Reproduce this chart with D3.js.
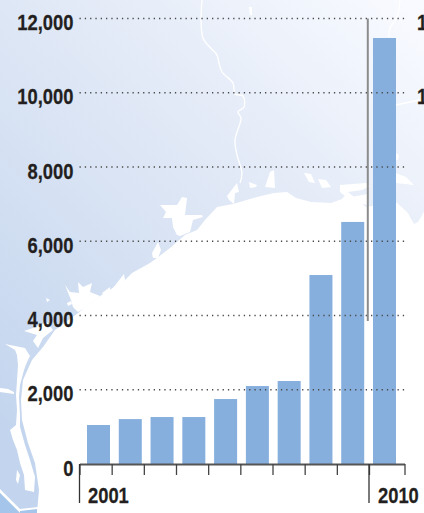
<!DOCTYPE html>
<html lang="en">
<head>
    <meta charset="UTF-8" />
    <title>Bar chart 2001-2010</title>
    <script src="https://d3js.org/d3.v7.min.js"></script>
    <style>
        html, body { margin: 0; padding: 0; background: #fff; overflow: hidden; }
        svg { display: block; }
        text { font-family: "Liberation Sans", sans-serif; font-weight: bold; font-size: 22px; fill: #231f20; stroke: #231f20; stroke-width: 0.25px; }
    </style>
</head>
<body>
    <svg id="chart" width="424" height="513"></svg>

    <script>
        // Values
        const years = [2001, 2002, 2003, 2004, 2005, 2006, 2007, 2008, 2009, 2010];
        const values = [1050, 1210, 1265, 1265, 1750, 2100, 2235, 5090, 6520, 11475];
        const yTicks = [0, 2000, 4000, 6000, 8000, 10000, 12000];
        const yearLabels = [2001, 2010];

        const svg = d3.select("#chart");

        // The labels use a condensed face, no narrow font here so squeeze it
        const squeeze = "scale(0.835,1)";

        // Scales
        const x = d3.scaleBand().domain(years).range([87, 396]).paddingInner(0.276).paddingOuter(0);
        const y = d3.scaleLinear().domain([0, 12000]).range([464, 18.5]);
        // Ticks sit between the bars and the last one runs a bit wider
        const xTick = d3.scaleLinear().domain([2001, 2010, 2011]).range([79.5, 369, 404.5]);

        // Background map, land only (the gulf is the white page)
        const grad = svg.append("defs").append("linearGradient")
            .attr("id", "land")
            .attr("gradientUnits", "userSpaceOnUse")
            .attr("x1", 0).attr("y1", 420).attr("x2", 400).attr("y2", 0);
        grad.append("stop").attr("offset", 0).attr("stop-color", "#c3d5ee");
        grad.append("stop").attr("offset", 0.5).attr("stop-color", "#dde6f5");
        grad.append("stop").attr("offset", 1).attr("stop-color", "#f8faff");

        const map = svg.append("g");
        const shape = d3.line().curve(d3.curveLinearClosed);
        const river = d3.line().curve(d3.curveCatmullRom);

        const coast = [[0, 0], [424, 0], [424, 212], [418, 222], [414, 224], [407, 212], [396, 202], [366, 207],
            [348, 192], [342, 199], [331, 203], [311, 202], [296, 198], [287, 192], [274, 193], [257, 197],
            [233, 204], [217, 207], [205, 220], [197, 230], [185, 235], [170, 248], [157, 258], [150, 263],
            [132, 273], [125, 280], [97, 298], [78, 313], [55, 330], [43, 347], [32, 360], [23, 380],
            [21, 400], [22, 420], [28, 443], [35, 463], [39, 490], [37, 513], [0, 513]];
        map.append("path").attr("d", shape(coast)).attr("fill", "url(#land)");

        // Bays, lagoons and lakes
        const water = [
            [[5, 344], [25, 348], [30, 356], [27, 362], [24, 370], [20, 385], [19, 397], [20, 415], [20, 427], [25, 445], [30, 460], [35, 477], [34, 492], [25, 490], [24, 475], [20, 463], [17, 450], [13, 440], [10, 430], [16, 425], [17, 410], [16, 395], [17, 380], [18, 365], [17, 355], [15, 350]],
            [[17, 470], [20, 475], [18, 484], [16, 480]],
            [[0, 388], [8, 389], [14, 392], [14, 394], [0, 392]],
            [[0, 489], [10, 499], [20, 509], [38, 507], [40, 513], [20, 513], [10, 503], [0, 493]],
            [[24, 331], [33, 328], [47, 322], [53, 330], [43, 338], [38, 348], [33, 341], [37, 335]],
            [[65, 285], [70, 292], [79, 293], [78, 282], [83, 287], [92, 283], [90, 292], [100, 296], [85, 308], [78, 312], [73, 307], [71, 300]],
            [[46, 298], [50, 300], [47, 302]],
            [[67, 303], [71, 301], [72, 304], [68, 306]],
            [[102, 293], [110, 287], [110, 291], [104, 296]],
            [[113, 288], [124, 274], [125, 280], [116, 290]],
            [[160, 205], [177, 205], [182, 197], [187, 198], [185, 215], [202, 215], [203, 217], [193, 220], [190, 232], [180, 236], [177, 235], [173, 227], [172, 218], [163, 218], [166, 212]],
            [[152, 253], [158, 242], [161, 250], [158, 258], [153, 258]],
            [[227, 196], [237, 183], [239, 192], [235, 193], [234, 204], [229, 200]],
            [[249, 182], [257, 185], [256, 187], [250, 188]],
            [[265, 187], [270, 172], [274, 170], [275, 188]],
            [[304, 173], [311, 174], [315, 183], [309, 182]],
            [[318, 179], [326, 180], [331, 187], [322, 188]],
            [[340, 185], [366, 183], [370, 186], [362, 190], [348, 192], [345, 196], [340, 192]],
            [[351, 197], [368, 194], [368, 205], [356, 203]],
            [[396, 173], [406, 177], [414, 185], [396, 183]],
            [[396, 153], [399, 155], [398, 160], [396, 160]],
            [[398, 213], [409, 214], [409, 218], [398, 217]],
            [[249, 7], [252, 7], [252, 15], [250, 15]]
        ];
        map.selectAll(".water").data(water).enter().append("path")
            .attr("class", "water")
            .attr("d", d => shape(d))
            .attr("fill", "#fff");

        // Darker sea in the corner
        map.append("path")
            .attr("d", shape([[0, 493], [10, 503], [20, 513], [0, 513]]))
            .attr("fill", "#a5c5ea");
        map.append("path")
            .attr("d", shape([[20, 511], [37, 509], [37, 513], [20, 513]]))
            .attr("fill", "#a5c5ea");

        // Rivers
        const rivers = [
            [[202, 0], [203, 38], [217, 55], [219, 63], [222, 72], [233, 83], [235, 94], [243, 96], [244, 107], [238, 112], [241, 118], [235, 140], [237, 155], [242, 173], [240, 183]],
            [[400, 0], [397, 17], [390, 28], [389, 37]],
            [[396, 105], [424, 99]]
        ];
        map.selectAll(".river").data(rivers).enter().append("path")
            .attr("class", "river")
            .attr("d", d => river(d))
            .attr("fill", "none")
            .attr("stroke", "#fff")
            .attr("stroke-width", 1.3);

        // Bars
        svg.selectAll(".bar")
            .data(years)
            .enter()
            .append("rect")
            .attr("class", "bar")
            .attr("x", d => x(d))
            .attr("y", (d, i) => y(values[i]))
            .attr("width", x.bandwidth())
            .attr("height", (d, i) => y(0) - y(values[i]))
            .attr("fill", "#86afde");

        // Dotted grid lines
        svg.selectAll(".grid")
            .data(yTicks.filter(d => d > 0))
            .enter()
            .append("line")
            .attr("class", "grid")
            .attr("x1", xTick(2001))
            .attr("x2", xTick(2011))
            .attr("y1", d => y(d))
            .attr("y2", d => y(d))
            .attr("stroke", "#4a4a4a")
            .attr("stroke-width", 1.3)
            .attr("stroke-dasharray", "1.3 4");

        // Vertical grey rule
        svg.append("line")
            .attr("x1", 367.8).attr("x2", 367.8)
            .attr("y1", y(12000)).attr("y2", 321)
            .attr("stroke", "#8c8c8c")
            .attr("stroke-width", 2);

        // Y axis, labels only
        const yAxis = d3.axisLeft(y).tickValues(yTicks).tickFormat(d3.format(",")).tickSize(0).tickPadding(0);
        const yG = svg.append("g").attr("transform", "translate(73.5,0)").call(yAxis);
        yG.select(".domain").remove();
        yG.selectAll("text")
            .attr("dy", null)
            .attr("x", 0)
            .attr("y", 11)
            .attr("transform", squeeze)
            .style("font-size", "22px");

        // X axis
        const xAxis = d3.axisBottom(xTick)
            .tickValues(d3.range(2001, 2012))
            .tickFormat("")
            .tickSize(11)
            .tickSizeOuter(0);
        const xG = svg.append("g").attr("transform", "translate(0,464)").call(xAxis);
        xG.select(".domain").attr("stroke", "#555").attr("stroke-width", 2);
        xG.selectAll(".tick line").attr("stroke", "#444").attr("stroke-width", 1.3);

        // Long ticks at the first and last year
        svg.selectAll(".year-tick")
            .data(yearLabels)
            .enter()
            .append("line")
            .attr("class", "year-tick")
            .attr("x1", d => xTick(d))
            .attr("x2", d => xTick(d))
            .attr("y1", 464)
            .attr("y2", 503)
            .attr("stroke", "#333")
            .attr("stroke-width", 1.3);

        svg.selectAll(".year")
            .data(yearLabels)
            .enter()
            .append("text")
            .attr("class", "year")
            .attr("transform", d => `translate(${x(d) + (d === 2001 ? 1 : 5)},503) ${squeeze}`)
            .text(d => d);

        // Start of a second column of labels, cut off by the picture edge
        svg.selectAll(".cut")
            .data([12000, 10000])
            .enter()
            .append("text")
            .attr("class", "cut")
            .attr("transform", d => `translate(417,${y(d) + 11}) ${squeeze}`)
            .text("1");
    </script>
</body>
</html>
